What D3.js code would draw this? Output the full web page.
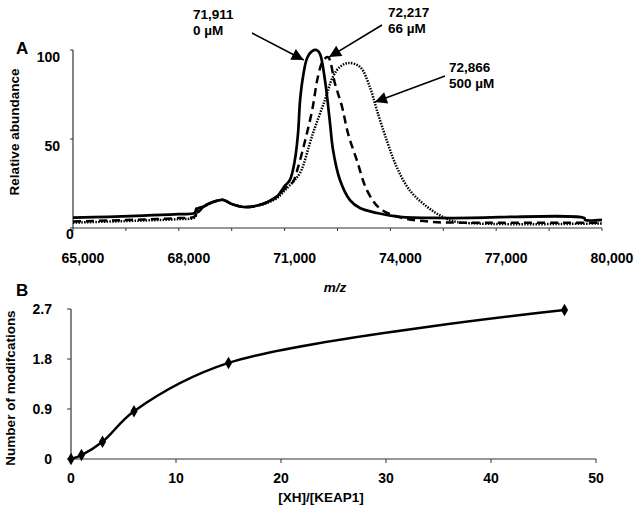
<!DOCTYPE html>
<html><head><meta charset="utf-8">
<script src="https://cdn.jsdelivr.net/npm/d3@7"></script>
<style>body{margin:0;background:#fff}svg{display:block}text{font-family:"Liberation Sans",Arial,sans-serif;font-weight:bold;fill:#000}</style>
</head><body><svg id="c" width="638" height="514"></svg>
<script>
// ---------- Panel A: deconvoluted spectra ----------
const mzSolid = [65000,66000,67000,68000,68450,68500,68550,68700,69000,69250,69500,69850,70200,70500,70800,71000,71150,71290,71380,71440,71530,71640,71780,71910,72000,72145,72287,72372,72570,72853,73137,73620,74270,75690,79500,79520,80000];
const absSolid = [5.8,6.3,7,7.8,8.5,11,9,12,14.8,15.8,13.5,11.8,12.5,14.5,18,23.5,27,38,53,72,86,95.5,99.4,100,98,83,59,44,27,15.7,11.2,8.4,6.2,5.6,5.6,4.6,4.6];
const mzDashed = [65000,66000,67000,68000,68450,68550,68700,69000,69250,69500,69850,70200,70500,70800,71000,71240,71380,71580,71780,71945,72090,72230,72430,72630,72800,73050,73340,73700,74270,75200,76000,80000];
const absDashed = [3.6,4.2,4.8,5.6,6.5,11,12,14.8,15.8,13.5,11.8,12.5,14.5,18,22,26,34,49,66,85,94,96,81,68,53,38,21,11,6,3.4,3,3];
const mzDotted = [65000,66000,67000,68000,68450,68550,68700,69000,69250,69500,69850,70200,70500,70800,71000,71240,71440,71800,72145,72370,72570,72800,73140,73420,73620,73900,74185,74555,75035,75490,75890,80000];
const absDotted = [3,3.6,4.2,5,6,11,12,14.8,15.8,13.5,11.8,12.5,14,17,21,26,31,53,72,85,90.5,92.7,90.5,79,66,49,34,21,12,6.2,3.4,2.6];
const peakMasses = [71911, 72217, 72866];
const peakConcs = ["0 µM", "66 µM", "500 µM"];
const xTicksA = [65000,68000,71000,74000,77000,80000];
const yTicksA = [0,50,100];

// ---------- Panel B: modification titration ----------
const ratio = [0,1,3,6,15,47];
const nMods = [0,0.07,0.31,0.86,1.73,2.68];
const xTicksB = [0,10,20,30,40,50];
const yTicksB = [0,0.9,1.8,2.7];

const svg = d3.select("#c");
const axisCol = "#333";

// ===== Panel A =====
const xA = d3.scaleLinear().domain([65000,80000]).range([73,602]);
const yA = d3.scaleLinear().domain([0,100]).range([228,50]);
const gA = svg.append("g");

gA.append("line").attr("x1",xA.range()[0]).attr("x2",xA.range()[1]).attr("y1",yA(0)).attr("y2",yA(0)).attr("stroke",axisCol).attr("stroke-width",1.2);
gA.append("line").attr("x1",xA(65000)).attr("x2",xA(65000)).attr("y1",yA(0)).attr("y2",yA(100)).attr("stroke",axisCol).attr("stroke-width",1.2);
d3.range(65000,80001,1500).forEach(v=>{
  gA.append("line").attr("x1",xA(v)).attr("x2",xA(v)).attr("y1",yA(0)).attr("y2",yA(0)+3).attr("stroke",axisCol);
});
yTicksA.forEach(v=>{
  gA.append("line").attr("x1",xA(65000)-3).attr("x2",xA(65000)).attr("y1",yA(v)).attr("y2",yA(v)).attr("stroke",axisCol);
});
gA.selectAll(".xl").data(xTicksA).enter().append("text")
  .attr("x",d=>xA(d)+10).attr("y",yA(0)+35).attr("text-anchor","middle").style("font-size","14px")
  .text(d=>d3.format(",")(d));
gA.selectAll(".yl").data(yTicksA).enter().append("text")
  .attr("x",d=>d===0?xA(65000)-3:xA(65000)-13).attr("y",d=>yA(d)+(d===0?11:12))
  .attr("text-anchor",d=>d===0?"middle":"end").style("font-size","14px").text(d=>d);

gA.append("text").attr("transform","translate(19,132) rotate(-90)").attr("text-anchor","middle").style("font-size","13.5px").text("Relative abundance");
gA.append("text").attr("x",335).attr("y",292).attr("text-anchor","middle").style("font-size","13.5px").style("font-style","italic").text("m/z");
gA.append("text").attr("x",16).attr("y",54).style("font-size","17px").text("A");

const lineA = d3.line().x(d=>xA(d[0])).y(d=>yA(d[1])).curve(d3.curveCatmullRom.alpha(0.5));
const series = [
  {mz:mzDotted, ab:absDotted, dash:"1.5,1.3", w:2.5},
  {mz:mzDashed, ab:absDashed, dash:"8,5", w:2.5},
  {mz:mzSolid, ab:absSolid, dash:null, w:2.7}
];
series.forEach(s=>{
  gA.append("path").datum(s.mz.map((m,i)=>[m,s.ab[i]]))
    .attr("d",lineA).attr("fill","none").attr("stroke","#000")
    .attr("stroke-width",s.w).attr("stroke-dasharray",s.dash).attr("stroke-linejoin","round");
});

svg.append("defs").append("marker").attr("id","ah").attr("viewBox","0 0 10 10").attr("refX",10).attr("refY",5)
  .attr("markerWidth",14).attr("markerHeight",12).attr("markerUnits","userSpaceOnUse").attr("orient","auto")
  .append("path").attr("d","M0,0L10,5L0,10Z").attr("fill","#000");
const ann = [
  {tx:193, ty:19, from:[252,33], tip:[xA(peakMasses[0])-13, yA(94.4)]},
  {tx:388, ty:17, from:[382,25], tip:[xA(peakMasses[1])+1.5, yA(96)]},
  {tx:449, ty:72, from:[445,76], tip:[xA(peakMasses[2])+24.5, yA(70.8)]}
];
ann.forEach((a,i)=>{
  gA.append("text").attr("x",a.tx).attr("y",a.ty).style("font-size","13.5px").text(d3.format(",")(peakMasses[i]));
  gA.append("text").attr("x",a.tx).attr("y",a.ty+16).style("font-size","13.5px").text(peakConcs[i]);
  gA.append("line").attr("x1",a.from[0]).attr("y1",a.from[1]).attr("x2",a.tip[0]).attr("y2",a.tip[1])
    .attr("stroke","#000").attr("stroke-width",1.6).attr("marker-end","url(#ah)");
});

// ===== Panel B =====
const xB = d3.scaleLinear().domain([0,50]).range([71,596]);
const yB = d3.scaleLinear().domain([0,2.7]).range([459,309]);
const gB = svg.append("g");
gB.append("line").attr("x1",xB(0)).attr("x2",xB(50)).attr("y1",yB(0)).attr("y2",yB(0)).attr("stroke",axisCol).attr("stroke-width",1.2);
gB.append("line").attr("x1",xB(0)).attr("x2",xB(0)).attr("y1",yB(0)).attr("y2",yB(2.7)).attr("stroke",axisCol).attr("stroke-width",1.2);
xTicksB.forEach(v=>{
  gB.append("line").attr("x1",xB(v)).attr("x2",xB(v)).attr("y1",yB(0)).attr("y2",yB(0)+4).attr("stroke",axisCol);
});
yTicksB.forEach(v=>{
  gB.append("line").attr("x1",xB(0)-4).attr("x2",xB(0)).attr("y1",yB(v)).attr("y2",yB(v)).attr("stroke",axisCol);
});
gB.selectAll(".xl").data(xTicksB).enter().append("text")
  .attr("x",d=>xB(d)).attr("y",yB(0)+24).attr("text-anchor","middle").style("font-size","14px").text(d=>d);
gB.selectAll(".yl").data(yTicksB).enter().append("text")
  .attr("x",xB(0)-19).attr("y",d=>yB(d)+5).attr("text-anchor","end").style("font-size","14px").text(d=>d);
gB.append("text").attr("transform","translate(15,388) rotate(-90)").attr("text-anchor","middle").style("font-size","13.5px").text("Number of modifcations");
gB.append("text").attr("x",321).attr("y",502).attr("text-anchor","middle").style("font-size","13.5px").text("[XH]/[KEAP1]");
gB.append("text").attr("x",16).attr("y",296).style("font-size","17px").text("B");

const pts = ratio.map((r,i)=>[r,nMods[i]]);
gB.append("path").datum(pts).attr("d",d3.line().x(d=>xB(d[0])).y(d=>yB(d[1])).curve(d3.curveCatmullRom.alpha(0.5)))
  .attr("fill","none").attr("stroke","#000").attr("stroke-width",2.5);
gB.selectAll(".pt").data(pts).enter().append("path")
  .attr("d",d3.symbol(d3.symbolDiamond,45)).attr("transform",d=>`translate(${xB(d[0])},${yB(d[1])})`).attr("fill","#000");
</script></body></html>
